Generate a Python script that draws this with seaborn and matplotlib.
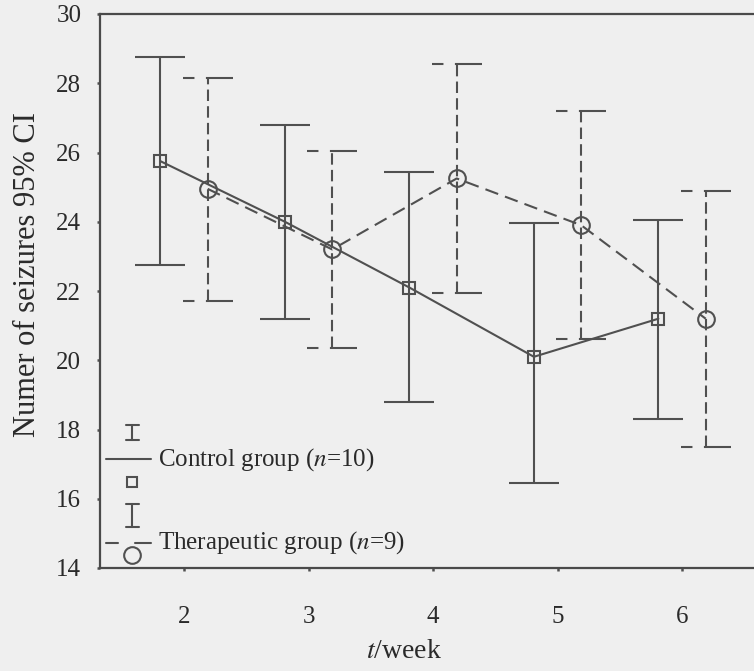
import matplotlib
matplotlib.use("Agg")
import matplotlib.pyplot as plt
import pandas as pd
import seaborn as sns

# data (number of seizures, 95% CI)
weeks = [2, 3, 4, 5, 6]
control_mean = [25.75, 24.0, 22.1, 20.1, 21.2]
control_lo = [22.75, 21.2, 18.8, 16.45, 18.3]
control_hi = [28.75, 26.8, 25.45, 23.95, 24.05]
therapy_mean = [24.95, 23.2, 25.25, 23.9, 21.2]
therapy_lo = [21.7, 20.35, 21.95, 20.6, 17.5]
therapy_hi = [28.15, 26.05, 28.55, 27.2, 24.9]
groups = ["Control", "Therapeutic"]
legend_labels = ["Control group ($n$=10)", "Therapeutic group ($n$=9)"]
y_ticks = [14, 16, 18, 20, 22, 24, 26, 28, 30]

sns.set_style("ticks")
plt.rcParams["font.family"] = ["Liberation Serif", "DejaVu Serif"]
plt.rcParams["mathtext.fontset"] = "stix"

bg = "#efefef"
ink = "#505050"
txt = "#2a2a2a"

df = pd.DataFrame({
    "week": weeks * 2,
    "group": [groups[0]] * len(weeks) + [groups[1]] * len(weeks),
    "mean": control_mean + therapy_mean,
    "lo": control_lo + therapy_lo,
    "hi": control_hi + therapy_hi,
})
df["x"] = df["week"] + df["group"].map({"Control": -0.19, "Therapeutic": 0.19})

fig = plt.figure(figsize=(7.54, 6.71), dpi=100, facecolor=bg)
ax = fig.add_axes([100 / 754, 103 / 671, 654 / 754, 554 / 671])
ax.set_facecolor(bg)

ctrl = df[df["group"] == "Control"]
ther = df[df["group"] == "Therapeutic"]

# mean lines
sns.lineplot(data=ctrl, x="x", y="mean", ax=ax, color=ink, lw=1.5, errorbar=None,
             marker="s", ms=8, mfc="none", mec=ink, mew=1.5, legend=False)
sns.lineplot(data=ther, x="x", y="mean", ax=ax, color=ink, lw=1.5, errorbar=None,
             linestyle=(0, (6.5, 3.5)), marker="o", ms=12, mfc="none", mec=ink,
             mew=1.5, legend=False)

# 95% CI bars
cap = 0.2
ax.vlines(ctrl["x"], ctrl["lo"], ctrl["hi"], colors=ink, lw=1.5)
ax.hlines(ctrl["lo"], ctrl["x"] - cap, ctrl["x"] + cap, colors=ink, lw=1.5)
ax.hlines(ctrl["hi"], ctrl["x"] - cap, ctrl["x"] + cap, colors=ink, lw=1.5)
ax.vlines(ther["x"], ther["lo"], ther["hi"], colors=ink, lw=1.5,
          linestyles=[(0, (5.5, 2.5))])
cap_ls = [(0, (5.5, 5.5, 40, 1))]
ax.hlines(ther["lo"], ther["x"] - cap, ther["x"] + cap, colors=ink, lw=1.5, linestyles=cap_ls)
ax.hlines(ther["hi"], ther["x"] - cap, ther["x"] + cap, colors=ink, lw=1.5, linestyles=cap_ls)

ax.set_xlim(1.325, 6.578)
ax.set_ylim(14, 30)
ax.set_xticks(weeks)
ax.set_yticks(y_ticks)
ax.tick_params(axis="both", length=2.5, width=1.8, color=ink, labelsize=18, labelcolor=txt)
ax.tick_params(axis="x", pad=25)
ax.tick_params(axis="y", pad=11)
for side in ["left", "bottom", "top"]:
    ax.spines[side].set_color("#4a4a4a")
    ax.spines[side].set_linewidth(1.6)
ax.spines["right"].set_visible(False)

ax.set_ylabel("Numer of seizures 95% CI", fontsize=22, color=txt)
ax.yaxis.set_label_coords(-0.088, 0.53)
ax.set_xlabel("$t$/week", fontsize=20, color=txt)
ax.xaxis.set_label_coords(0.465, -0.128)

# hand-built legend (bar glyph / line / marker stacked)
tr = ax.transAxes
gx = 0.049
w = 0.01
for (b0, b1), ly, my, mk, ms, dashed, ty, lab in [
    ((0.231, 0.258), 0.196, 0.156, "s", 7, False, 0.196, legend_labels[0]),
    ((0.0745, 0.1155), 0.0446, 0.0235, "o", 12, True, 0.046, legend_labels[1]),
]:
    ax.plot([gx, gx], [b0, b1], color=ink, lw=1.5, transform=tr, clip_on=False)
    ax.plot([gx - w, gx + w], [b0, b0], color=ink, lw=1.5, transform=tr, clip_on=False)
    ax.plot([gx - w, gx + w], [b1, b1], color=ink, lw=1.5, transform=tr, clip_on=False)
    if dashed:
        ax.plot([0.0092, 0.027], [ly, ly], color=ink, lw=1.5, transform=tr)
        ax.plot([0.054, 0.078], [ly, ly], color=ink, lw=1.5, transform=tr)
    else:
        ax.plot([0.0092, 0.078], [ly, ly], color=ink, lw=1.5, transform=tr)
    ax.plot([gx], [my], marker=mk, ms=ms, mfc="none", mec=ink, mew=1.5, transform=tr)
    ax.text(0.0887, ty, lab, transform=tr, fontsize=18, color=txt, va="center", ha="left")

fig.savefig("out.png", dpi=100, facecolor=bg)
